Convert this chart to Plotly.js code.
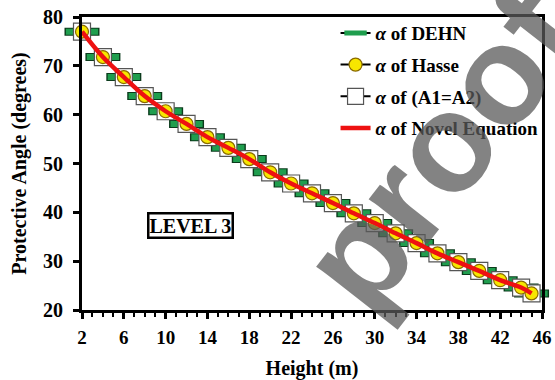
<!DOCTYPE html>
<html>
<head>
<meta charset="utf-8">
<script src="https://cdn.plot.ly/plotly-3.0.1.min.js"></script>
<style>html,body{margin:0;padding:0;background:#fff;}#chart{width:555px;height:380px;}</style>
</head>
<body>
<div id="chart"></div>
<script>
// Heights (m)
const heights = [2,4,6,8,10,12,14,16,18,20,22,24,26,28,30,32,34,36,38,40,42,44,45];
// Protective angle (degrees)
const alphaDEHN  = [77.0,71.8,67.7,63.8,60.7,58.1,55.4,53.2,50.9,48.2,45.9,43.9,41.9,39.8,37.8,35.7,33.7,31.6,29.8,28.0,26.1,24.6,23.4];
const alphaHasse = [77.0,71.8,67.7,63.8,60.7,58.1,55.4,53.2,50.9,48.2,45.9,43.9,41.9,39.8,37.8,35.7,33.7,31.6,29.8,28.0,26.1,24.6,23.4];
const alphaA1A2  = [77.0,71.8,67.7,63.8,60.7,58.1,55.4,53.2,50.9,48.2,45.9,43.9,41.9,39.8,37.8,35.7,33.7,31.6,29.8,28.0,26.1,24.6,23.4];
const alphaNovel = [77.0,71.8,67.7,63.8,60.7,58.1,55.4,53.2,50.9,48.2,45.9,43.9,41.9,39.8,37.8,35.7,33.7,31.6,29.8,28.0,26.1,24.6,23.4];
const seriesNames = ['<i>α</i> of DEHN','<i>α</i> of Hasse','<i>α</i> of (A1=A2)','<i>α</i> of Novel Equation'];
const xTicks = [2,6,10,14,18,22,26,30,34,38,42,46];
const yTicks = [20,30,40,50,60,70,80];

const serif = 'Liberation Serif, Times New Roman, serif';

const traces = [
  { // dark outline of DEHN bars
    x: heights, y: alphaDEHN, mode: 'markers', type: 'scatter', showlegend: false, hoverinfo: 'skip',
    cliponaxis: false,
    marker: {symbol: 'line-ew', size: 25, color: '#0b3b1c', line: {width: 8, color: '#0b3b1c'}}
  },
  {
    x: heights, y: alphaDEHN, mode: 'lines+markers', type: 'scatter', name: seriesNames[0],
    legendgroup: 'g1', legendrank: 1, cliponaxis: false,
    line: {color: '#000', width: 2},
    marker: {symbol: 'line-ew', size: 23, color: '#1f9e4e', line: {width: 6, color: '#1f9e4e'}}
  },
  {
    x: heights, y: alphaA1A2, mode: 'lines+markers', type: 'scatter', name: seriesNames[2],
    legendgroup: 'g3', legendrank: 3, cliponaxis: false,
    line: {color: '#000', width: 2},
    marker: {symbol: 'square', size: 17, color: '#ffffff', line: {width: 1.2, color: '#555'}}
  },
  {
    x: heights, y: alphaHasse, mode: 'lines+markers', type: 'scatter', name: seriesNames[1],
    legendgroup: 'g2', legendrank: 2, cliponaxis: false,
    line: {color: '#000', width: 2},
    marker: {symbol: 'circle', size: 13, color: '#f7e600', line: {width: 1.2, color: '#8a6a00'}}
  },
  {
    x: heights, y: alphaNovel, mode: 'lines', type: 'scatter', name: seriesNames[3],
    legendgroup: 'g4', legendrank: 4, cliponaxis: false,
    line: {color: '#ee1111', width: 4.5, shape: 'spline'}
  }
];

const layout = {
  width: 555, height: 380,
  margin: {l: 82, r: 12, t: 17, b: 70},
  paper_bgcolor: '#fff', plot_bgcolor: '#fff',
  font: {family: serif, color: '#000', size: 19, weight: 'bold'},
  showlegend: true,
  legend: {
    x: 0.55, xanchor: 'left', y: 1.01, yanchor: 'top',
    bgcolor: 'rgba(0,0,0,0)', borderwidth: 0,
    font: {family: serif, size: 19, color: '#000', weight: 'bold'},
    traceorder: 'grouped', tracegroupgap: 4, itemwidth: 30
  },
  xaxis: {
    range: [2, 46], tickmode: 'array', tickvals: xTicks, ticktext: xTicks.map(String),
    showgrid: false, zeroline: false,
    showline: true, linewidth: 3, linecolor: '#000', mirror: true,
    ticks: 'outside', ticklen: 6, tickwidth: 3, tickcolor: '#000',
    minor: {dtick: 1, tick0: 2, ticks: 'outside', ticklen: 4, tickwidth: 2, tickcolor: '#000', showgrid: false},
    tickfont: {family: serif, size: 19, weight: 'bold'},
    ticklabelstandoff: 2,
    title: {text: 'Height (m)', font: {family: serif, size: 20, weight: 'bold'}, standoff: 16}
  },
  yaxis: {
    range: [20, 80], tickmode: 'array', tickvals: yTicks, ticktext: yTicks.map(String),
    showgrid: false, zeroline: false,
    showline: true, linewidth: 3, linecolor: '#000', mirror: true,
    ticks: 'outside', ticklen: 6, tickwidth: 3, tickcolor: '#000',
    tickfont: {family: serif, size: 20, weight: 'bold'},
    ticklabelstandoff: 6,
    title: {text: 'Protective Angle (degrees)', font: {family: serif, size: 20, weight: 'bold'}, standoff: 12}
  },
  annotations: [
    {
      xref: 'x', yref: 'y', x: 12.4, y: 37.4, text: 'LEVEL 3', showarrow: false,
      font: {family: serif, size: 20, color: '#000', weight: 'bold'},
      bordercolor: '#000', borderwidth: 2.5, borderpad: 0, bgcolor: '#fff'
    },
    {
      xref: 'paper', yref: 'paper', x: 0.78, y: 0.55, xanchor: 'center', yanchor: 'middle',
      text: 'proof', showarrow: false,
      textangle: -52,
      font: {family: 'Liberation Sans, Arial, sans-serif', size: 140, color: 'rgba(90,90,90,0.75)'}
    }
  ]
};

Plotly.newPlot('chart', traces, layout, {displayModeBar: false, staticPlot: true});
</script>
</body>
</html>
